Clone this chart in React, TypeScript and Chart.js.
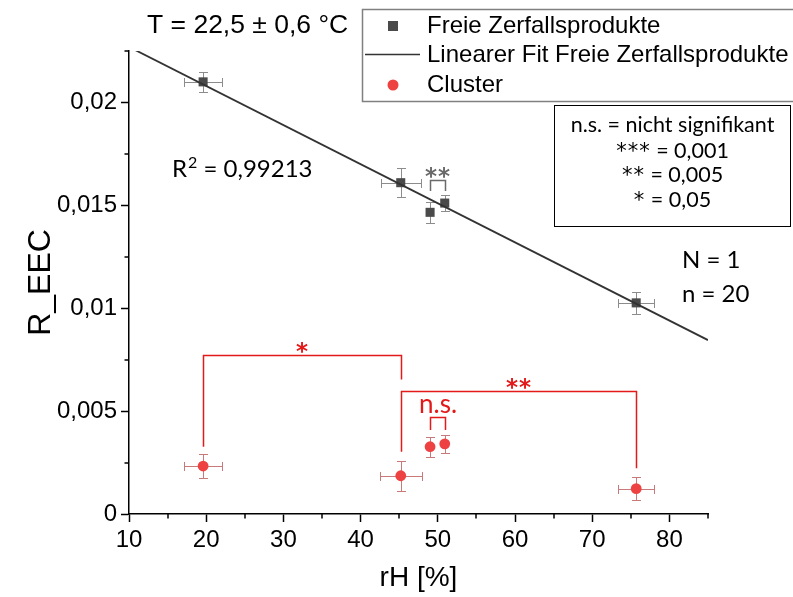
import React, { useEffect, useRef } from "react";
import { Chart, registerables } from "chart.js";
Chart.register(...registerables);

// ---- data ----
const freieX = [19.6, 45.2, 49.0, 50.9, 75.7];
const freieY = [0.0210, 0.0161, 0.01466, 0.01511, 0.01026];
const freieXErr = [2.45, 2.6, 0, 0, 2.3];
const freieYErr = [0.0005, 0.0007, 0.0005, 0.0004, 0.00052];

const clusterX = [19.6, 45.2, 49.0, 50.9, 75.7];
const clusterY = [0.00233, 0.00186, 0.00327, 0.00341, 0.00123];
const clusterXErr = [2.5, 2.7, 0, 0, 2.3];
const clusterYErr = [0.00058, 0.00073, 0.00049, 0.00045, 0.00056];

const fitX = [10, 85];
const fitY = [0.0227, 0.00845];

const xTicks = [10, 20, 30, 40, 50, 60, 70, 80];
const xMinorTicks = [15, 25, 35, 45, 55, 65, 75, 85];
const yTicks = [0, 0.005, 0.01, 0.015, 0.02];
const yTickLabels = ["0", "0,005", "0,01", "0,015", "0,02"];
const yMinorTicks = [0.0025, 0.0075, 0.0125, 0.0175, 0.0225];

// significance brackets (cluster, red)
const bracketStartX = [19.6, 45.2, 49.0];
const bracketEndX = [45.2, 75.7, 50.9];
const bracketTopY = [0.00772, 0.00597, 0.00469];
const bracketLeftBottomY = [0.00327, 0.00302, 0.00408];
const bracketRightBottomY = [0.00654, 0.00222, 0.00408];
const bracketLabels = ["*", "**", "n.s."];

// significance bracket (free products, grey)
const greyBracketX = [49.0, 50.9];
const greyBracketY = [0.01625, 0.0157];
const greyBracketLabel = "**";

const legendLabels = ["Freie Zerfallsprodukte", "Linearer Fit Freie Zerfallsprodukte", "Cluster"];
const sigStars = ["", "***", "**", "*"];
const sigTexts = ["n.s. = nicht signifikant", " = 0,001", " = 0,005", " = 0,05"];

const SQ = "#4a4a4a";
const RED = "#ee4242";
const GREY_ERR = "#8c8c8c";
const RED_ERR = "#c87a7a";
const BR_RED = "#e41a1a";
const ARIAL = "'Liberation Sans', Arial, sans-serif";
const CAL = "Lato, 'Open Sans', sans-serif";
const STAR = "'DejaVu Sans', sans-serif";

function drawErrors(chart: any, xs: number[], ys: number[], xe: number[], ye: number[], color: string) {
  const ctx = chart.ctx;
  const sx = chart.scales.x;
  const sy = chart.scales.y;
  ctx.save();
  ctx.strokeStyle = color;
  ctx.lineWidth = 1;
  const cap = 4.5;
  for (let i = 0; i < xs.length; i++) {
    const px = Math.round(sx.getPixelForValue(xs[i])) + 0.5;
    const py = Math.round(sy.getPixelForValue(ys[i])) + 0.5;
    const y1 = Math.round(sy.getPixelForValue(ys[i] + ye[i])) + 0.5;
    const y2 = Math.round(sy.getPixelForValue(ys[i] - ye[i])) + 0.5;
    ctx.beginPath();
    ctx.moveTo(px, y1); ctx.lineTo(px, y2);
    ctx.moveTo(px - cap, y1); ctx.lineTo(px + cap, y1);
    ctx.moveTo(px - cap, y2); ctx.lineTo(px + cap, y2);
    if (xe[i] > 0) {
      const x1 = Math.round(sx.getPixelForValue(xs[i] - xe[i])) + 0.5;
      const x2 = Math.round(sx.getPixelForValue(xs[i] + xe[i])) + 0.5;
      ctx.moveTo(x1, py); ctx.lineTo(x2, py);
      ctx.moveTo(x1, py - cap); ctx.lineTo(x1, py + cap);
      ctx.moveTo(x2, py - cap); ctx.lineTo(x2, py + cap);
    }
    ctx.stroke();
  }
  ctx.restore();
}

function drawBracket(chart: any, x1: number, x2: number, top: number, yl: number, yr: number, label: string, color: string, font: string, labelOffset: number, spacing: string) {
  const ctx = chart.ctx;
  const sx = chart.scales.x;
  const sy = chart.scales.y;
  const p1 = Math.round(sx.getPixelForValue(x1)) + 0.5;
  const p2 = Math.round(sx.getPixelForValue(x2)) + 0.5;
  const pt = Math.round(sy.getPixelForValue(top)) + 0.5;
  ctx.save();
  ctx.strokeStyle = color;
  ctx.lineWidth = 1.5;
  ctx.beginPath();
  ctx.moveTo(p1, sy.getPixelForValue(yl));
  ctx.lineTo(p1, pt);
  ctx.lineTo(p2, pt);
  ctx.lineTo(p2, sy.getPixelForValue(yr));
  ctx.stroke();
  ctx.fillStyle = color;
  ctx.font = font;
  ctx.textAlign = "center";
  ctx.textBaseline = "alphabetic";
  (ctx as any).letterSpacing = spacing;
  ctx.fillText(label, (p1 + p2) / 2, pt - labelOffset);
  ctx.restore();
}

function drawMixed(ctx: any, parts: [string, string, string][], cx: number, baseline: number) {
  let total = 0;
  const widths: number[] = [];
  for (const [t, f, sp] of parts) {
    ctx.font = f;
    ctx.letterSpacing = sp;
    const w = ctx.measureText(t).width;
    widths.push(w);
    total += w;
  }
  let x = cx - total / 2;
  ctx.textAlign = "left";
  parts.forEach(([t, f, sp], i) => {
    ctx.font = f;
    ctx.letterSpacing = sp;
    ctx.fillText(t, x, baseline);
    x += widths[i];
  });
  ctx.letterSpacing = "0px";
}

const annotPlugin = {
  id: "annot",
  beforeDatasetsDraw(chart: any) {
    drawErrors(chart, freieX, freieY, freieXErr, freieYErr, GREY_ERR);
    drawErrors(chart, clusterX, clusterY, clusterXErr, clusterYErr, RED_ERR);
  },
  afterDatasetsDraw(chart: any) {
    for (let i = 0; i < bracketLabels.length; i++) {
      const isNs = bracketLabels[i] === "n.s.";
      drawBracket(
        chart, bracketStartX[i], bracketEndX[i], bracketTopY[i], bracketLeftBottomY[i], bracketRightBottomY[i],
        bracketLabels[i], BR_RED,
        isNs ? `26px ${CAL}` : `bold 23px ${STAR}`,
        isNs ? 5 : -3,
        isNs ? "0px" : "1px"
      );
    }
    drawBracket(chart, greyBracketX[0], greyBracketX[1], greyBracketY[0], greyBracketY[1], greyBracketY[1],
      greyBracketLabel, "#6a6a6a", `bold 23px ${STAR}`, -3, "1px");
  },
  afterDraw(chart: any) {
    const ctx = chart.ctx;
    const sx = chart.scales.x;
    const sy = chart.scales.y;
    const area = chart.chartArea;
    ctx.save();
    // minor ticks
    ctx.strokeStyle = "#000";
    ctx.lineWidth = 1.5;
    ctx.beginPath();
    for (const v of xMinorTicks) {
      const px = Math.round(sx.getPixelForValue(v));
      ctx.moveTo(px, area.bottom); ctx.lineTo(px, area.bottom + 4.5);
    }
    for (const v of yMinorTicks) {
      const py = Math.round(sy.getPixelForValue(v));
      ctx.moveTo(area.left, py); ctx.lineTo(area.left - 4.5, py);
    }
    ctx.stroke();

    // temperature text
    ctx.fillStyle = "#000";
    ctx.font = `26.5px ${ARIAL}`;
    ctx.textAlign = "left";
    ctx.textBaseline = "alphabetic";
    ctx.fillText("T = 22,5 ± 0,6 °C", 147, 33);

    // R^2
    ctx.font = `24px ${CAL}`;
    ctx.fillText("R", 172, 177);
    const rw = ctx.measureText("R").width;
    ctx.font = `16px ${CAL}`;
    ctx.fillText("2", 172 + rw + 1, 168);
    const sw = ctx.measureText("2").width;
    ctx.font = `24px ${CAL}`;
    ctx.fillText(" = 0,99213", 172 + rw + 1 + sw, 177);

    // N, n
    ctx.font = `24px ${CAL}`;
    ctx.fillText("N = 1", 682, 268);
    ctx.fillText("n = 20", 682, 302);

    // legend box
    ctx.strokeStyle = "#808080";
    ctx.lineWidth = 1.5;
    ctx.strokeRect(362.5, 9.5, 440, 92);
    ctx.font = `24px ${ARIAL}`;
    ctx.fillStyle = "#000";
    const rows = [26, 55, 85];
    for (let i = 0; i < legendLabels.length; i++) {
      ctx.textBaseline = "middle";
      ctx.fillText(legendLabels[i], 427, rows[i]);
    }
    ctx.fillStyle = SQ;
    ctx.fillRect(388, 21, 10, 10);
    ctx.strokeStyle = "#333";
    ctx.lineWidth = 1.5;
    ctx.beginPath();
    ctx.moveTo(365, 54.5); ctx.lineTo(420, 54.5);
    ctx.stroke();
    ctx.fillStyle = RED;
    ctx.beginPath();
    ctx.arc(393, 85, 5.5, 0, Math.PI * 2);
    ctx.fill();

    // significance legend
    ctx.strokeStyle = "#000";
    ctx.lineWidth = 1;
    ctx.strokeRect(554.5, 105.5, 236, 121);
    ctx.fillStyle = "#000";
    ctx.textBaseline = "alphabetic";
    const sigBase = [132, 158, 182, 207];
    for (let i = 0; i < sigTexts.length; i++) {
      const parts: [string, string, string][] = [];
      if (sigStars[i]) parts.push([sigStars[i], `21px ${STAR}`, "1px"]);
      parts.push([sigTexts[i], `21.5px ${CAL}`, "0px"]);
      drawMixed(ctx, parts, 672.5, sigBase[i]);
    }
    ctx.restore();
  },
};

export default function App() {
  const ref = useRef<HTMLCanvasElement>(null);
  useEffect(() => {
    document.body.style.margin = "0";
    const canvas = ref.current!;
    const chart = new Chart(canvas, {
      type: "scatter",
      data: {
        datasets: [
          {
            type: "line",
            label: legendLabels[1],
            data: fitX.map((x, i) => ({ x, y: fitY[i] })),
            borderColor: "#333333",
            borderWidth: 1.8,
            pointRadius: 0,
            fill: false,
          } as any,
          {
            label: legendLabels[0],
            data: freieX.map((x, i) => ({ x, y: freieY[i] })),
            pointStyle: "rect",
            pointRadius: 6.4,
            backgroundColor: SQ,
            borderColor: SQ,
            borderWidth: 0,
          },
          {
            label: legendLabels[2],
            data: clusterX.map((x, i) => ({ x, y: clusterY[i] })),
            pointStyle: "circle",
            pointRadius: 5.4,
            backgroundColor: RED,
            borderColor: RED,
            borderWidth: 0,
          },
        ],
      },
      options: {
        responsive: false,
        animation: false,
        layout: { padding: { top: 51, right: 85, left: 0, bottom: 0 } },
        plugins: { legend: { display: false }, tooltip: { enabled: false } },
        scales: {
          x: {
            type: "linear",
            min: 10,
            max: 85,
            afterBuildTicks: (scale: any) => { scale.ticks = xTicks.map((v) => ({ value: v })); },
            afterFit: (scale: any) => { scale.height = 83; },
            grid: { drawOnChartArea: false, drawTicks: true, tickLength: 8, tickWidth: 1.5, tickColor: "#000" },
            border: { display: true, color: "#000", width: 1.5 },
            ticks: { color: "#000", font: { family: ARIAL, size: 24 }, padding: 4, maxRotation: 0, autoSkip: false },
            title: { display: true, text: "rH [%]", color: "#000", font: { family: ARIAL, size: 28 }, padding: { top: 0, bottom: 2 } },
          },
          y: {
            type: "linear",
            min: 0,
            max: 0.0225,
            afterBuildTicks: (scale: any) => { scale.ticks = yTicks.map((v) => ({ value: v })); },
            afterFit: (scale: any) => { scale.width = 129; },
            grid: { drawOnChartArea: false, drawTicks: true, tickLength: 8, tickWidth: 1.5, tickColor: "#000" },
            border: { display: true, color: "#000", width: 1.5 },
            ticks: {
              color: "#000",
              font: { family: ARIAL, size: 24 },
              padding: 4,
              autoSkip: false,
              callback: (v: any) => { const i = yTicks.indexOf(v); return i >= 0 ? yTickLabels[i] : ""; },
            },
            title: { display: true, text: "R_EEC", color: "#000", font: { family: ARIAL, size: 32 }, padding: { top: 22, bottom: 0 } },
          },
        },
      },
      plugins: [annotPlugin],
    } as any);
    return () => chart.destroy();
  }, []);
  return (
    <div style={{ width: 793, height: 597 }}>
      <canvas ref={ref} width={793} height={597} style={{ display: "block" }} />
    </div>
  );
}
